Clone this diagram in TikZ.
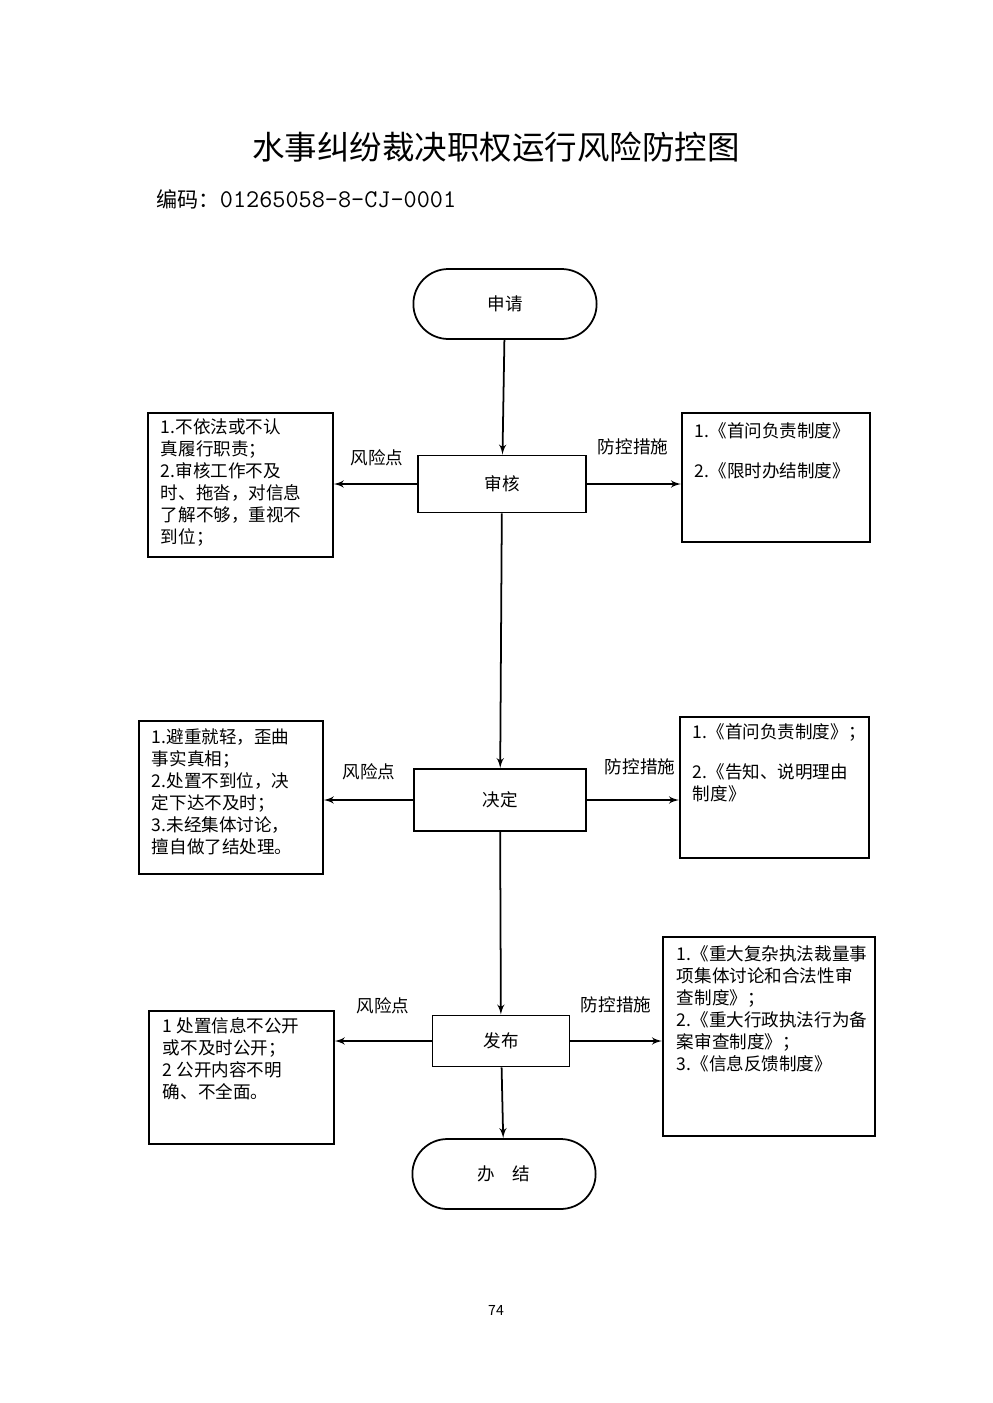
\documentclass[tikz,border=0pt]{standalone}
\usepackage{fontspec}
\setmainfont{Liberation Serif}
\newfontfamily\cjk{Noto Sans CJK SC}
\usetikzlibrary{arrows,shapes}

\begin{document}
\begin{tikzpicture}[x=0.02cm, y=-0.02cm, >=latex', line width=1pt]
    \tikzstyle{every node} = [font=\cjk\fontsize{10}{12.5}\selectfont]
    \tikzstyle{terminal} = [draw, rounded rectangle, minimum width=3.9cm, minimum height=1.4cm]
    \tikzstyle{stage} = [draw, rectangle, minimum height=1.14cm]
    \tikzstyle{note} = [draw, rectangle, anchor=north west]
    \tikzstyle{notetext} = [anchor=north west, align=left, inner sep=0pt]

    \useasboundingbox (0,0) rectangle (992,1403);

    \node at (496,147) {\fontsize{18.5}{22}\selectfont 水事纠纷裁决职权运行风险防控图};
    \node[anchor=west] at (150,199) {\fontsize{12}{14}\selectfont 编码：\fontsize{14.5}{16}\selectfont\texttt{01265058-8-CJ-0001}};

    \node (apply) [terminal] at (505,304) {申请};
    \node (review) [stage, minimum width=3.36cm] at (502,484) {审核};
    \node (decide) [stage, minimum width=3.44cm, minimum height=1.24cm] at (500,800) {决定};
    \node (publish) [stage, minimum width=2.74cm, minimum height=1.02cm] at (501,1041) {发布};
    \node (done) [terminal] at (504,1174) {办\quad 结};

    \node (risk1) [note, minimum width=3.7cm, minimum height=2.88cm] at (147,412) {};
    \node [notetext] at (160,418) {1.不依法或不认\\真履行职责；\\2.审核工作不及\\时、拖沓，对信息\\了解不够，重视不\\到位；};
    \node (ctrl1) [note, minimum width=3.76cm, minimum height=2.58cm] at (681,412) {};
    \node [notetext] at (694,422) {1.《首问负责制度》\\[10pt]2.《限时办结制度》};

    \node (risk2) [note, minimum width=3.68cm, minimum height=3.06cm] at (138,720) {};
    \node [notetext] at (151,728) {1.避重就轻，歪曲\\事实真相；\\2.处置不到位，决\\定下达不及时；\\3.未经集体讨论，\\擅自做了结处理。};
    \node (ctrl2) [note, minimum width=3.78cm, minimum height=2.82cm] at (679,716) {};
    \node [notetext] at (692,723) {1.《首问负责制度》；\\[10pt]2.《告知、说明理由\\制度》};

    \node (risk3) [note, minimum width=3.7cm, minimum height=2.66cm] at (148,1010) {};
    \node [notetext] at (162,1017) {1 处置信息不公开\\或不及时公开；\\2 公开内容不明\\确、不全面。};
    \node (ctrl3) [note, minimum width=4.24cm, minimum height=3.98cm] at (662,936) {};
    \node [notetext] at (676,945) {1.《重大复杂执法裁量事\\项集体讨论和合法性审\\查制度》；\\2.《重大行政执法行为备\\案审查制度》；\\3.《信息反馈制度》};

    \node at (377,458) {风险点};
    \node at (633,447) {防控措施};
    \node at (369,772) {风险点};
    \node at (640,767) {防控措施};
    \node at (383,1006) {风险点};
    \node at (616,1005) {防控措施};
    \node at (496,1310) {\fontsize{8}{9}\selectfont 74};

    \draw [->] (apply) -- (review);
    \draw [->] (review) -- (decide);
    \draw [->] (decide) -- (publish);
    \draw [->] (publish) -- (done);
    \draw [->] (review.west) -- (risk1.east |- review.west);
    \draw [->] (review.east) -- (ctrl1.west |- review.east);
    \draw [->] (decide.west) -- (risk2.east |- decide.west);
    \draw [->] (decide.east) -- (ctrl2.west |- decide.east);
    \draw [->] (publish.west) -- (risk3.east |- publish.west);
    \draw [->] (publish.east) -- (ctrl3.west |- publish.east);
\end{tikzpicture}
\end{document}
